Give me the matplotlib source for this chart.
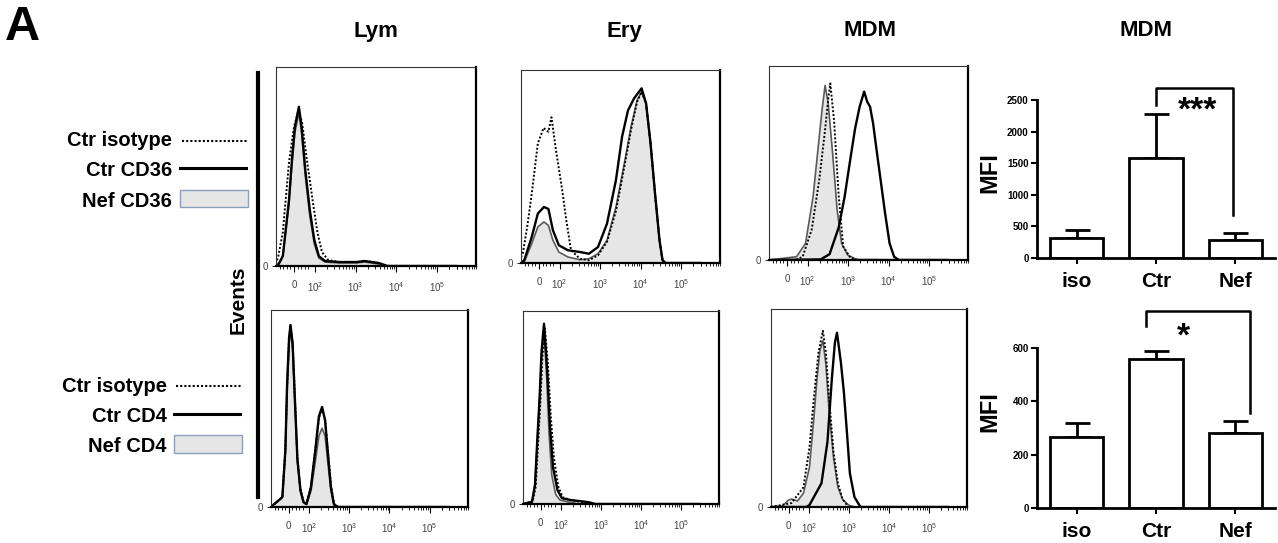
import matplotlib
matplotlib.use("Agg")
import numpy as np
import matplotlib.pyplot as plt
from matplotlib.lines import Line2D
from matplotlib.patches import Rectangle

plt.rcParams['font.family'] = ['Liberation Sans', 'DejaVu Sans']
plt.rcParams['mathtext.default'] = 'regular'

# --- flow histograms: x = position on the biexponential axis (0..1), y = relative events ---
# Lym CD36
lym36_iso_x = [0.0, 0.013, 0.038, 0.072, 0.10, 0.125, 0.145, 0.172, 0.205, 0.23, 0.255, 0.29, 0.35, 0.45, 0.50, 0.57, 0.62, 1.0]
lym36_iso_y = [0.01, 0.05, 0.17, 0.52, 0.70, 0.78, 0.72, 0.53, 0.32, 0.17, 0.07, 0.03, 0.02, 0.02, 0.025, 0.015, 0.0, 0.0]
lym36_ctr_x = [0.0, 0.015, 0.038, 0.072, 0.088, 0.105, 0.127, 0.142, 0.163, 0.188, 0.213, 0.238, 0.272, 0.35, 0.45, 0.49, 0.57, 0.62, 1.0]
lym36_ctr_y = [0.0, 0.01, 0.05, 0.33, 0.53, 0.70, 0.80, 0.70, 0.48, 0.28, 0.13, 0.05, 0.025, 0.02, 0.02, 0.025, 0.015, 0.0, 0.0]
lym36_nef_x = lym36_ctr_x
lym36_nef_y = [0.0, 0.01, 0.05, 0.31, 0.50, 0.67, 0.77, 0.67, 0.45, 0.25, 0.11, 0.04, 0.02, 0.015, 0.015, 0.02, 0.01, 0.0, 0.0]

# Ery CD36
ery36_iso_x = [0.0, 0.01, 0.035, 0.06, 0.094, 0.126, 0.153, 0.17, 0.195, 0.228, 0.253, 0.279, 0.329, 0.379, 0.43, 0.48, 0.53, 0.58, 0.614, 0.648, 0.673, 0.698, 0.723, 0.748, 0.773, 0.79, 0.807, 1.0]
ery36_iso_y = [0.03, 0.05, 0.19, 0.36, 0.62, 0.70, 0.68, 0.755, 0.585, 0.39, 0.22, 0.066, 0.022, 0.014, 0.04, 0.11, 0.27, 0.515, 0.69, 0.836, 0.887, 0.827, 0.62, 0.36, 0.118, 0.014, 0.0, 0.0]
ery36_ctr_x = [0.0, 0.018, 0.06, 0.094, 0.128, 0.153, 0.178, 0.211, 0.262, 0.329, 0.379, 0.43, 0.48, 0.53, 0.564, 0.597, 0.631, 0.673, 0.698, 0.723, 0.748, 0.773, 0.79, 0.807, 1.0]
ery36_ctr_y = [0.0, 0.014, 0.135, 0.256, 0.29, 0.28, 0.17, 0.092, 0.066, 0.057, 0.048, 0.083, 0.204, 0.43, 0.654, 0.79, 0.853, 0.905, 0.827, 0.62, 0.36, 0.118, 0.014, 0.0, 0.0]
ery36_nef_x = [0.0, 0.018, 0.06, 0.094, 0.128, 0.153, 0.178, 0.211, 0.262, 0.329, 0.379, 0.43, 0.48, 0.53, 0.58, 0.614, 0.648, 0.673, 0.698, 0.723, 0.748, 0.773, 0.79, 0.807, 1.0]
ery36_nef_y = [0.0, 0.005, 0.10, 0.187, 0.213, 0.195, 0.118, 0.057, 0.031, 0.017, 0.022, 0.048, 0.118, 0.29, 0.533, 0.706, 0.844, 0.887, 0.827, 0.62, 0.36, 0.118, 0.014, 0.0, 0.0]

# MDM CD36
mdm36_iso_x = [0.0, 0.15, 0.188, 0.238, 0.28, 0.313, 0.33, 0.342, 0.363, 0.389, 0.414, 0.456, 0.50, 1.0]
mdm36_iso_y = [0.0, 0.0, 0.017, 0.155, 0.41, 0.67, 0.825, 0.91, 0.72, 0.33, 0.07, 0.009, 0.0, 0.0]
mdm36_ctr_x = [0.0, 0.288, 0.338, 0.389, 0.422, 0.456, 0.481, 0.506, 0.531, 0.548, 0.564, 0.581, 0.598, 0.623, 0.648, 0.673, 0.698, 0.724, 1.0]
mdm36_ctr_y = [0.0, 0.003, 0.03, 0.168, 0.326, 0.533, 0.68, 0.79, 0.868, 0.816, 0.79, 0.704, 0.584, 0.412, 0.24, 0.086, 0.017, 0.0, 0.0]
mdm36_nef_x = [0.0, 0.154, 0.204, 0.246, 0.271, 0.296, 0.313, 0.33, 0.355, 0.38, 0.405, 0.439, 0.489, 1.0]
mdm36_nef_y = [0.0, 0.017, 0.086, 0.326, 0.55, 0.773, 0.90, 0.81, 0.55, 0.26, 0.086, 0.026, 0.003, 0.0]

# Lym CD4
lym4_ctr_x = [0.0, 0.064, 0.081, 0.091, 0.102, 0.11, 0.122, 0.135, 0.149, 0.166, 0.183, 0.20, 0.225, 0.25, 0.27, 0.288, 0.305, 0.321, 0.338, 0.355, 0.377, 1.0]
lym4_ctr_y = [0.0, 0.05, 0.29, 0.63, 0.86, 0.924, 0.83, 0.54, 0.24, 0.085, 0.025, 0.015, 0.10, 0.29, 0.46, 0.508, 0.44, 0.27, 0.10, 0.014, 0.0, 0.0]
lym4_iso_x = lym4_ctr_x
lym4_iso_y = [0.0, 0.05, 0.29, 0.62, 0.85, 0.92, 0.83, 0.55, 0.25, 0.09, 0.028, 0.016, 0.10, 0.29, 0.45, 0.50, 0.44, 0.28, 0.11, 0.016, 0.0, 0.0]
lym4_nef_x = lym4_ctr_x
lym4_nef_y = [0.0, 0.05, 0.28, 0.60, 0.83, 0.90, 0.80, 0.52, 0.23, 0.08, 0.022, 0.013, 0.08, 0.23, 0.36, 0.40, 0.36, 0.22, 0.08, 0.01, 0.0, 0.0]

# Ery CD4
ery4_ctr_x = [0.0, 0.051, 0.068, 0.082, 0.094, 0.105, 0.119, 0.136, 0.153, 0.17, 0.196, 0.221, 0.272, 0.323, 0.374, 0.408, 1.0]
ery4_ctr_y = [0.0, 0.012, 0.10, 0.35, 0.55, 0.79, 0.934, 0.71, 0.40, 0.19, 0.07, 0.03, 0.02, 0.015, 0.009, 0.0, 0.0]
ery4_iso_x = [0.0, 0.055, 0.072, 0.086, 0.098, 0.11, 0.124, 0.14, 0.157, 0.175, 0.20, 0.225, 0.272, 0.323, 0.374, 0.408, 1.0]
ery4_iso_y = [0.0, 0.012, 0.09, 0.32, 0.52, 0.76, 0.91, 0.74, 0.46, 0.24, 0.09, 0.035, 0.02, 0.012, 0.006, 0.0, 0.0]
ery4_nef_x = [0.0, 0.051, 0.068, 0.082, 0.094, 0.105, 0.119, 0.134, 0.148, 0.163, 0.185, 0.21, 0.26, 0.32, 1.0]
ery4_nef_y = [0.0, 0.012, 0.10, 0.34, 0.54, 0.77, 0.90, 0.66, 0.36, 0.15, 0.05, 0.02, 0.01, 0.0, 0.0]

# MDM CD4
mdm4_iso_x = [0.0, 0.116, 0.184, 0.218, 0.243, 0.269, 0.294, 0.311, 0.328, 0.354, 0.379, 0.405, 0.439, 1.0]
mdm4_iso_y = [0.0, 0.02, 0.10, 0.30, 0.55, 0.78, 0.89, 0.78, 0.56, 0.28, 0.12, 0.04, 0.0, 0.0]
mdm4_ctr_x = [0.0, 0.20, 0.218, 0.286, 0.32, 0.345, 0.362, 0.374, 0.396, 0.413, 0.43, 0.447, 0.473, 0.507, 1.0]
mdm4_ctr_y = [0.0, 0.0, 0.01, 0.12, 0.33, 0.65, 0.83, 0.88, 0.73, 0.58, 0.38, 0.17, 0.05, 0.0, 0.0]
mdm4_nef_x = [0.0, 0.065, 0.099, 0.116, 0.15, 0.184, 0.218, 0.243, 0.26, 0.277, 0.294, 0.311, 0.328, 0.354, 0.379, 0.405, 0.439, 0.473, 1.0]
mdm4_nef_y = [0.0, 0.005, 0.035, 0.04, 0.03, 0.07, 0.20, 0.45, 0.64, 0.79, 0.84, 0.72, 0.50, 0.25, 0.10, 0.04, 0.01, 0.0, 0.0]

# --- MFI bar charts ---
groups = ["iso", "Ctr", "Nef"]
cd36_mfi = [310, 1590, 290]
cd36_err = [130, 690, 100]
cd4_mfi = [265, 560, 280]
cd4_err = [55, 30, 45]

hist_ticks = ['0', '$10^2$', '$10^3$', '$10^4$', '$10^5$']

fig = plt.figure(figsize=(12.78, 5.43), dpi=100)

# axis positions (biexponential display)
dec = 0.2265
p2 = 0.215
major_pos = [0.10, p2, p2 + dec, p2 + 2 * dec, p2 + 3 * dec]
minor_pos = [0.02, 0.04, 0.06, 0.08, 0.12, 0.14, 0.16, 0.18]
for n in range(4):
    for k in range(2, 10):
        minor_pos.append(p2 + (n + np.log10(k)) * dec)
minor_pos += [p2 + (3 + np.log10(2)) * dec, p2 + (3 + np.log10(3)) * dec]


def draw_hist(rect, iso, ctr, nef):
    ax = fig.add_axes(rect)
    ax.fill_between(nef[0], nef[1], 0, color='#e6e6e6', lw=0)
    ax.plot(nef[0], nef[1], color='#5a5a5a', lw=1.2)
    ax.plot(ctr[0], ctr[1], color='black', lw=1.7)
    ax.plot(iso[0], iso[1], color='black', lw=1.4, ls=(0, (1, 1)))
    ax.set_xlim(0, 1)
    ax.set_ylim(0, 1)
    ax.set_xticks(major_pos)
    ax.set_xticklabels(hist_ticks, fontsize=7, color='#444444')
    ax.set_xticks(minor_pos, minor=True)
    ax.tick_params(axis='x', which='major', length=4, width=0.8, pad=6)
    ax.tick_params(axis='x', which='minor', length=2, width=0.6)
    ax.set_yticks([0])
    ax.set_yticklabels(['0'], fontsize=7, color='#444444')
    ax.tick_params(axis='y', length=3, width=0.6, pad=3)
    for s in ['top', 'left']:
        ax.spines[s].set_linewidth(0.8)
        ax.spines[s].set_color('#333333')
    for s in ['bottom', 'right']:
        ax.spines[s].set_linewidth(1.6)
    return ax


W, H = 1278, 543


def rect_px(x0, y0, x1, y1):
    return [x0 / W, 1 - y1 / H, (x1 - x0) / W, (y1 - y0) / H]


draw_hist(rect_px(276, 67, 476, 266), (lym36_iso_x, lym36_iso_y), (lym36_ctr_x, lym36_ctr_y), (lym36_nef_x, lym36_nef_y))
draw_hist(rect_px(521, 70, 720, 263), (ery36_iso_x, ery36_iso_y), (ery36_ctr_x, ery36_ctr_y), (ery36_nef_x, ery36_nef_y))
draw_hist(rect_px(769, 66, 968, 260), (mdm36_iso_x, mdm36_iso_y), (mdm36_ctr_x, mdm36_ctr_y), (mdm36_nef_x, mdm36_nef_y))
draw_hist(rect_px(271, 310, 468, 507), (lym4_iso_x, lym4_iso_y), (lym4_ctr_x, lym4_ctr_y), (lym4_nef_x, lym4_nef_y))
draw_hist(rect_px(523, 311, 719, 504), (ery4_iso_x, ery4_iso_y), (ery4_ctr_x, ery4_ctr_y), (ery4_nef_x, ery4_nef_y))
draw_hist(rect_px(771, 309, 967, 507), (mdm4_iso_x, mdm4_iso_y), (mdm4_ctr_x, mdm4_ctr_y), (mdm4_nef_x, mdm4_nef_y))


def draw_bars(rect, vals, errs, ymax, yticks, bracket, star, star_pos, label_y):
    ax = fig.add_axes(rect)
    x = np.arange(len(groups))
    ax.bar(x, vals, width=0.67, color='white', edgecolor='black', lw=2, zorder=2)
    ax.errorbar(x, vals, yerr=[np.zeros(len(errs)), errs], fmt='none', ecolor='black',
                elinewidth=2, capsize=9, capthick=2, zorder=1)
    ax.set_xlim(-0.5, 2.5)
    ax.set_ylim(0, ymax)
    ax.set_yticks(yticks)
    ax.set_yticklabels([str(t) for t in yticks], fontsize=7, fontweight='bold')
    ax.set_xticks(x)
    ax.set_xticklabels(groups, fontsize=15, fontweight='bold')
    ax.tick_params(axis='x', length=4, width=1.5, pad=6)
    ax.tick_params(axis='y', length=4, width=1.5, pad=2)
    ax.spines['top'].set_visible(False)
    ax.spines['right'].set_visible(False)
    ax.spines['left'].set_linewidth(2)
    ax.spines['bottom'].set_linewidth(2)
    ax.set_ylabel('MFI', fontsize=17, fontweight='bold')
    ax.yaxis.set_label_coords(-0.15, label_y)
    bx, by = bracket
    ax.plot(bx, by, color='black', lw=1.8, clip_on=False)
    ax.text(star_pos[0], star_pos[1], star, fontsize=24, fontweight='bold',
            ha='center', va='center')
    return ax


draw_bars(rect_px(1037, 100, 1275, 258), cd36_mfi, cd36_err, 2500,
          [0, 500, 1000, 1500, 2000, 2500],
          ([1.0, 1.0, 1.975, 1.975], [2420, 2690, 2690, 680]), '***', (1.52, 2330), 0.54)
draw_bars(rect_px(1037, 348, 1275, 508), cd4_mfi, cd4_err, 600,
          [0, 200, 400, 600],
          ([0.873, 0.873, 2.18, 2.18], [683, 739, 739, 356]), '*', (1.34, 640), 0.6)

# panel titles
fig.text(22 / W, 1 - 27 / H, 'A', fontsize=35, fontweight='bold', ha='center', va='center')
for xp, t in [(376, 'Lym'), (624, 'Ery'), (870, 'MDM'), (1146, 'MDM')]:
    fig.text(xp / W, 1 - 31 / H, t, fontsize=16, fontweight='bold', ha='center', va='center')

# Events axis
fig.add_artist(Line2D([258 / W, 258 / W], [1 - 73 / H, 1 - 497 / H], color='black', lw=3))
fig.text(238 / W, 1 - 300 / H, 'Events', fontsize=15, fontweight='bold', rotation=90,
         ha='center', va='center')


# legends
def legend_block(x_text, x0, x1, ys, labels, box_y):
    for y, lab in zip(ys, labels):
        fig.text(x_text / W, 1 - y / H, lab, fontsize=14.5, fontweight='bold', ha='right', va='center')
    fig.add_artist(Line2D([x0 / W, x1 / W], [1 - ys[0] / H] * 2, color='black', lw=1.5, ls=(0, (1, 1))))
    fig.add_artist(Line2D([(x0 - 2) / W, (x1 - 2) / W], [1 - (ys[1] - 3) / H] * 2, color='black', lw=2.2))
    fig.add_artist(Rectangle(((x0 - 2) / W, 1 - box_y[1] / H), (x1 - x0 + 2) / W, (box_y[1] - box_y[0]) / H,
                             facecolor='#e6e6e6', edgecolor='#8a9fbd', lw=1.0, transform=fig.transFigure))


legend_block(172, 182, 248, [141, 171, 202], ['Ctr isotype', 'Ctr CD36', 'Nef CD36'], (190, 207))
legend_block(167, 176, 242, [386, 417, 447], ['Ctr isotype', 'Ctr CD4', 'Nef CD4'], (435, 453))

fig.savefig('out.png', dpi=100)
